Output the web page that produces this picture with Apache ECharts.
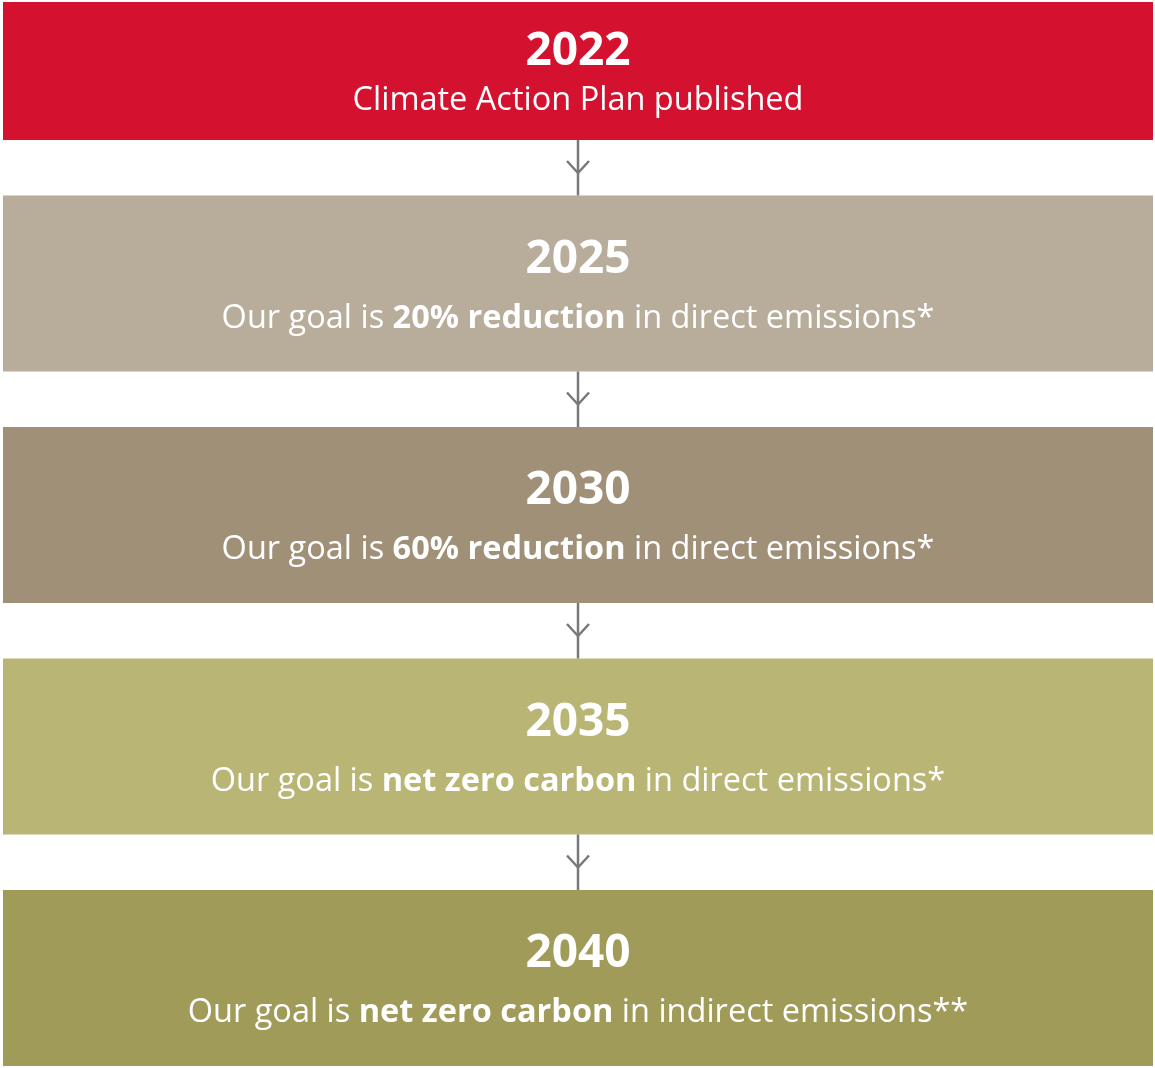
<!DOCTYPE html>
<html>
<head>
<meta charset="utf-8">
<script src="https://cdn.jsdelivr.net/npm/echarts@6/dist/echarts.min.js"></script>
<style>
  html, body { margin: 0; padding: 0; background: #fff; }
  #main { width: 1155px; height: 1068px; }
</style>
</head>
<body>
<div id="main"></div>
<script>
// timeline steps
var years = ['2022', '2025', '2030', '2035', '2040'];
var leadText = ['Climate Action Plan published', 'Our goal is ', 'Our goal is ', 'Our goal is ', 'Our goal is '];
var boldText = ['', '20% reduction', '60% reduction', 'net zero carbon', 'net zero carbon'];
var tailText = ['', ' in direct emissions*', ' in direct emissions*', ' in direct emissions*', ' in indirect emissions**'];
var boxColors = ['#d51130', '#b8ac9a', '#a09078', '#b9b574', '#a09b59'];

var HEAD_H = 138, BOX_H = 176, GAP = 55.5;
var FONT = '"Open Sans", Lato, sans-serif';

function boxTop(cs, i) {
  if (i === 0) return cs.y;
  return cs.y + HEAD_H + GAP + (i - 1) * (BOX_H + GAP);
}

var chart = echarts.init(document.getElementById('main'));

var option = {
  animation: false,
  grid: { left: 3, right: 2, top: 2, bottom: 1 },
  xAxis: { type: 'value', min: 0, max: 1, show: false },
  yAxis: { type: 'category', data: years, inverse: true, show: false },
  series: [{
    type: 'custom',
    data: years.map(function (y, i) { return [0.5, i]; }),
    renderItem: function (params, api) {
      var i = api.value(1);
      var cs = params.coordSys;
      var cx = api.coord([0.5, i])[0];
      var top = boxTop(cs, i);
      var h = i === 0 ? HEAD_H : BOX_H;
      var yearY = top + (i === 0 ? 50 : 64);
      var capY = top + (i === 0 ? 99 : 123);
      var children = [{
        type: 'rect',
        shape: { x: cs.x, y: top, width: cs.width, height: h },
        style: { fill: boxColors[i] }
      }, {
        type: 'text',
        x: cx, y: yearY,
        style: {
          text: years[i], fill: '#fff', align: 'center', verticalAlign: 'middle',
          fontFamily: FONT, fontWeight: 'bold', fontSize: 46
        }
      }, {
        type: 'text',
        x: cx, y: capY,
        style: {
          text: '{n|' + leadText[i] + '}' + (boldText[i] ? '{b|' + boldText[i] + '}{n|' + tailText[i] + '}' : ''),
          align: 'center', verticalAlign: 'middle',
          rich: {
            n: { fill: '#fff', fontFamily: FONT, fontSize: 32.5, fontWeight: 'normal' },
            b: { fill: '#fff', fontFamily: FONT, fontSize: 32.5, fontWeight: 'bold' }
          }
        }
      }];
      if (i > 0) {
        // connector from previous box
        var prevBottom = boxTop(cs, i - 1) + (i === 1 ? HEAD_H : BOX_H);
        var tipY = prevBottom + 33;
        children.push({
          type: 'line',
          shape: { x1: cx, y1: prevBottom, x2: cx, y2: top },
          style: { stroke: '#787878', lineWidth: 2.5 }
        }, {
          type: 'polyline',
          shape: { points: [[cx - 11, tipY - 12], [cx, tipY], [cx + 11, tipY - 12]] },
          style: { stroke: '#787878', lineWidth: 2.5, fill: null }
        });
      }
      return { type: 'group', children: children };
    }
  }]
};

chart.setOption(option);
</script>
</body>
</html>
